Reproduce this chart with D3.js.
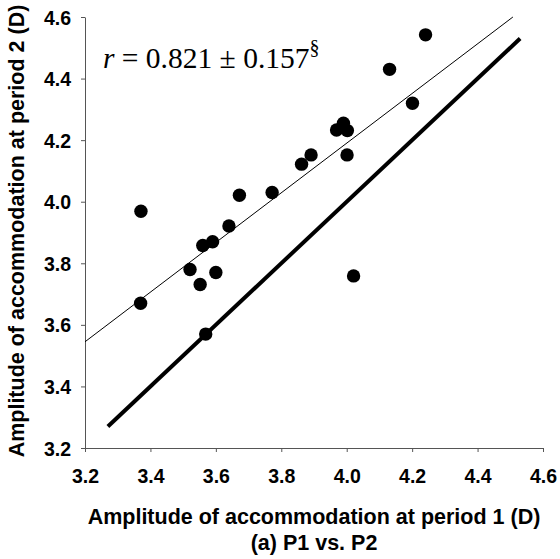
<!DOCTYPE html>
<html>
<head>
<meta charset="utf-8">
<script src="https://cdn.jsdelivr.net/npm/d3@7"></script>
<style>
  html, body { margin: 0; padding: 0; background: #fff; }
  svg { display: block; }
</style>
</head>
<body>
<svg id="chart" width="560" height="559"></svg>
<script>
// ---- data ----
const p1 = [3.371, 3.370, 3.521, 3.552, 3.560, 3.590, 3.600, 3.569, 3.640, 3.672, 3.772,
            3.862, 3.891, 3.969, 3.990, 4.002, 4.001, 4.021, 4.131, 4.201, 4.241];
const p2 = [3.969, 3.670, 3.780, 3.731, 3.858, 3.870, 3.770, 3.570, 3.921, 4.021, 4.030,
            4.122, 4.152, 4.233, 4.255, 4.231, 4.152, 3.759, 4.430, 4.320, 4.542];
const identityEnds = [3.27, 4.53];
const fitX = [3.2, 4.508];
const fitY = [3.545, 4.6];
const xTicks = [3.2, 3.4, 3.6, 3.8, 4.0, 4.2, 4.4, 4.6];
const yTicks = [3.2, 3.4, 3.6, 3.8, 4.0, 4.2, 4.4, 4.6];
const xTitle = "Amplitude of accommodation at period 1 (D)";
const yTitle = "Amplitude of accommodation at period 2 (D)";
const subTitle = "(a) P1 vs. P2";

// ---- layout ----
const svg = d3.select("#chart");
const mLeft = 85, mRight = 543, mTop = 17, mBottom = 448;
const x = d3.scaleLinear().domain([3.2, 4.6]).range([mLeft, mRight]);
const y = d3.scaleLinear().domain([3.2, 4.6]).range([mBottom, mTop]);
const font = "Arial, 'Liberation Sans', sans-serif";

// axes
const xAxis = svg.append("g").attr("transform", `translate(0,${mBottom})`)
  .call(d3.axisBottom(x).tickValues(xTicks).tickFormat(d3.format(".1f")).tickSize(4).tickSizeOuter(0));
const yAxis = svg.append("g").attr("transform", `translate(${mLeft},0)`)
  .call(d3.axisLeft(y).tickValues(yTicks).tickFormat(d3.format(".1f")).tickSize(4).tickSizeOuter(0));
[xAxis, yAxis].forEach(g => {
  g.selectAll("path, line").attr("stroke", "#555").attr("stroke-width", 1);
  g.selectAll("text").attr("font-family", font).attr("font-weight", "bold")
    .attr("font-size", 19.5).attr("fill", "#000");
});
xAxis.selectAll("text").attr("dy", null).attr("y", 35);
yAxis.selectAll("text").attr("x", -14).attr("dy", "0.36em");

// identity line
svg.append("line")
  .attr("x1", x(identityEnds[0])).attr("y1", y(identityEnds[0]))
  .attr("x2", x(identityEnds[1])).attr("y2", y(identityEnds[1]))
  .attr("stroke", "#000").attr("stroke-width", 4);

// regression line
svg.append("line")
  .attr("x1", x(fitX[0])).attr("y1", y(fitY[0]))
  .attr("x2", x(fitX[1])).attr("y2", y(fitY[1]))
  .attr("stroke", "#000").attr("stroke-width", 1);

// points
svg.append("g").selectAll("circle").data(p1.map((v, i) => [v, p2[i]])).join("circle")
  .attr("cx", d => x(d[0])).attr("cy", d => y(d[1])).attr("r", 6.7).attr("fill", "#000");

// annotation
const ann = svg.append("text").attr("x", 103).attr("y", 68)
  .attr("font-family", "'Liberation Serif', 'Times New Roman', serif").attr("font-size", 29.5).attr("fill", "#000");
ann.append("tspan").attr("font-style", "italic").text("r");
ann.append("tspan").text(" = 0.821 \u00b1 0.157");
ann.append("tspan").attr("font-size", 20).attr("dy", -14).text("\u00a7");

// titles
svg.append("text").attr("x", 314).attr("y", 524).attr("text-anchor", "middle")
  .attr("font-family", font).attr("font-weight", "bold").attr("font-size", 21.5).text(xTitle);
svg.append("text").attr("x", 314).attr("y", 550).attr("text-anchor", "middle")
  .attr("font-family", font).attr("font-weight", "bold").attr("font-size", 21.5).text(subTitle);
svg.append("text").attr("transform", `translate(24,231) rotate(-90)`).attr("text-anchor", "middle")
  .attr("font-family", font).attr("font-weight", "bold").attr("font-size", 21.5).text(yTitle);
</script>
</body>
</html>
